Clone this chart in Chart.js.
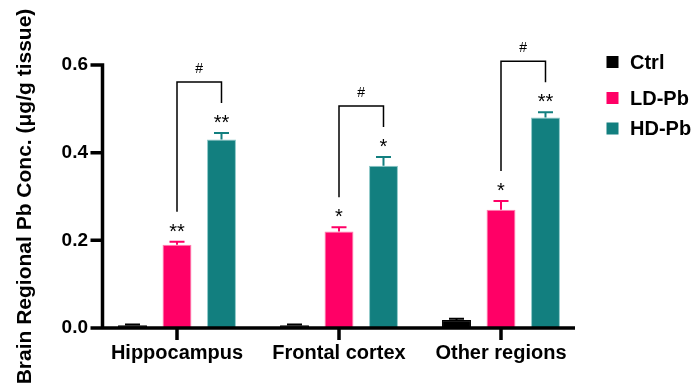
<!DOCTYPE html>
<html>
<head>
<meta charset="utf-8">
<script src="https://cdn.jsdelivr.net/npm/chart.js@4.4.1/dist/chart.umd.min.js"></script>
<style>
  html, body { margin: 0; padding: 0; background: #fff; }
</style>
</head>
<body>
<canvas id="pbChart" width="697" height="387"></canvas>
<script>
// values (μg/g tissue), mean and upper SEM
const regions = ['Hippocampus', 'Frontal cortex', 'Other regions'];
const groups = ['Ctrl', 'LD-Pb', 'HD-Pb'];
const ctrlMean = [0.006, 0.006, 0.018];
const ctrlErr = [0.002, 0.002, 0.003];
const ldMean = [0.19, 0.22, 0.27];
const ldErr = [0.007, 0.01, 0.02];
const hdMean = [0.43, 0.37, 0.48];
const hdErr = [0.015, 0.02, 0.012];
const ldMarks = ['**', '*', '*'];
const hdMarks = ['**', '*', '**'];
const pairMarks = ['#', '#', '#'];
const yTicks = [0, 0.2, 0.4, 0.6];

const fillColors = ['#000000', '#ff0066', '#127f7f'];
const edgeColors = ['#000000', '#ff80b0', '#8cc8c8'];
const errors = [ctrlErr, ldErr, hdErr];
const means = [ctrlMean, ldMean, hdMean];

const FONT = 'Arial, "Liberation Sans", sans-serif';

// axes, error bars, significance marks and legend
const decor = {
  id: 'decor',
  afterDatasetsDraw(chart) {
    const ctx = chart.ctx;
    const area = chart.chartArea;
    const xs = chart.scales.x;
    const ys = chart.scales.y;
    const zero = ys.getPixelForValue(0);
    const axisX = area.left + 6.5;

    ctx.save();

    // error bars (upper only)
    ctx.lineWidth = 2;
    means.forEach((m, d) => {
      const meta = chart.getDatasetMeta(d);
      ctx.strokeStyle = fillColors[d];
      m.forEach((v, i) => {
        const bar = meta.data[i];
        const top = ys.getPixelForValue(v + errors[d][i]);
        ctx.beginPath();
        ctx.moveTo(bar.x, bar.y);
        ctx.lineTo(bar.x, top);
        ctx.moveTo(bar.x - 7.5, top);
        ctx.lineTo(bar.x + 7.5, top);
        ctx.stroke();
      });
    });

    // axis lines and ticks
    ctx.strokeStyle = '#000';
    ctx.lineWidth = 3.5;
    ctx.beginPath();
    ctx.moveTo(axisX, ys.getPixelForValue(yTicks[yTicks.length - 1]) - 1.75);
    ctx.lineTo(axisX, zero);
    yTicks.forEach(v => {
      const py = ys.getPixelForValue(v);
      ctx.moveTo(axisX - 12, py);
      ctx.lineTo(axisX, py);
    });
    ctx.moveTo(axisX, zero);
    ctx.lineTo(area.right - 7, zero);
    regions.forEach((r, i) => {
      const px = xs.getPixelForValue(i);
      ctx.moveTo(px, zero);
      ctx.lineTo(px, zero + 12);
    });
    ctx.stroke();

    // stars, brackets, #
    const ldMeta = chart.getDatasetMeta(1);
    const hdMeta = chart.getDatasetMeta(2);
    ctx.fillStyle = '#000';
    ctx.textAlign = 'center';
    ctx.textBaseline = 'alphabetic';
    ctx.lineWidth = 1.5;
    regions.forEach((r, i) => {
      const lx = ldMeta.data[i].x;
      const hx = hdMeta.data[i].x;
      const lTop = ys.getPixelForValue(ldMean[i] + ldErr[i]);
      const hTop = ys.getPixelForValue(hdMean[i] + hdErr[i]);
      ctx.font = '20px ' + FONT;
      ctx.fillText(ldMarks[i], lx, lTop - 4);
      ctx.fillText(hdMarks[i], hx, hTop - 4);
      const bTop = hTop - 51;
      ctx.beginPath();
      ctx.moveTo(lx, lTop - 30);
      ctx.lineTo(lx, bTop);
      ctx.lineTo(hx, bTop);
      ctx.lineTo(hx, hTop - 30);
      ctx.stroke();
      ctx.font = '14px ' + FONT;
      ctx.fillText(pairMarks[i], (lx + hx) / 2, bTop - 9);
    });

    // legend
    const rows = [area.top - 3, area.top + 33, area.top + 63.5];
    ctx.textAlign = 'left';
    ctx.textBaseline = 'middle';
    ctx.font = 'bold 20px ' + FONT;
    chart.data.datasets.forEach((ds, d) => {
      ctx.fillStyle = fillColors[d];
      ctx.fillRect(area.right + 24.5, rows[d] - 6, 12, 12);
      ctx.fillStyle = '#000';
      ctx.fillText(ds.label, area.right + 48, rows[d] + 1);
    });

    ctx.restore();
  }
};

new Chart(document.getElementById('pbChart'), {
  type: 'bar',
  data: {
    labels: regions,
    datasets: groups.map((g, d) => ({
      label: g,
      data: means[d],
      backgroundColor: fillColors[d],
      borderColor: edgeColors[d],
      borderWidth: 1,
      categoryPercentage: 0.824,
      barPercentage: 0.65
    }))
  },
  options: {
    responsive: false,
    animation: false,
    devicePixelRatio: 1,
    layout: { padding: { top: 65, right: 115, bottom: 0, left: 0 } },
    plugins: {
      legend: { display: false },
      tooltip: { enabled: false }
    },
    scales: {
      x: {
        afterFit: s => { s.height = 59; },
        grid: { display: false, drawTicks: false },
        border: { display: false },
        ticks: {
          color: '#000',
          padding: 13,
          maxRotation: 0,
          font: { family: FONT, size: 20, weight: 'bold' }
        }
      },
      y: {
        min: 0,
        max: 0.6,
        afterFit: s => { s.width = 96; },
        afterBuildTicks: s => { s.ticks = yTicks.map(v => ({ value: v })); },
        grid: { display: false, drawTicks: false },
        border: { display: false },
        ticks: {
          color: '#000',
          padding: 8,
          font: { family: FONT, size: 19, weight: 'bold' },
          callback: v => v.toFixed(1)
        },
        title: {
          display: true,
          text: 'Brain Regional Pb Conc. (μg/g tissue)',
          color: '#000',
          padding: { top: 13, bottom: 0 },
          font: { family: FONT, size: 21, weight: 'bold' }
        }
      }
    }
  },
  plugins: [decor]
});
</script>
</body>
</html>
